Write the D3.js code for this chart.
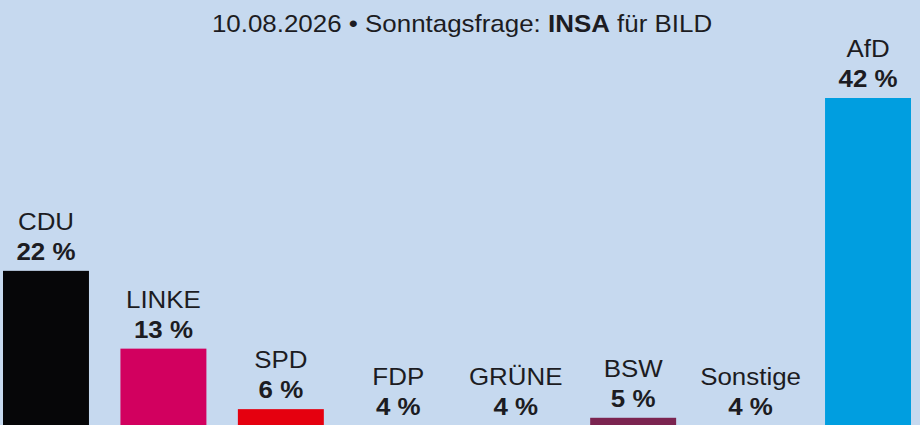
<!DOCTYPE html>
<html>
<head>
<meta charset="utf-8">
<script src="https://cdn.jsdelivr.net/npm/d3@7"></script>
<style>
  body { margin: 0; background: #c6d9ef; }
  text { font-family: "Liberation Sans", Arial, sans-serif; fill: #1c1c22; }
</style>
</head>
<body>
<script>
// poll data
var parties = ["CDU", "LINKE", "SPD", "FDP", "GRÜNE", "BSW", "Sonstige", "AfD"];
var shares = [22, 13, 6, 4, 4, 5, 4, 42];
var partyColors = ["#060608", "#d2005f", "#e5000f", "#ffe000", "#46962b", "#7b2450", "#9a9a9a", "#009ee0"];

var subtitleParts = [
  {text: "10.08.2026 • Sonntagsfrage: ", bold: false},
  {text: "INSA", bold: true},
  {text: " für BILD", bold: false}
];

var width = 920, height = 425;
var stretch = 1.08; // the source picture is a bit wider than normal type

var svg = d3.select("body").append("svg")
  .attr("width", width)
  .attr("height", height);

svg.append("rect")
  .attr("width", width).attr("height", height)
  .attr("fill", "#c6d9ef");

var x = d3.scaleBand()
  .domain(parties)
  .range([3, 911])
  .paddingInner(0.268)
  .paddingOuter(0);

// baseline sits below the cropped bottom edge
var y = d3.scaleLinear()
  .domain([0, 42])
  .range([461, 98]);

var data = parties.map(function(p, i) {
  return {party: p, value: shares[i], color: partyColors[i]};
});

svg.selectAll("rect.bar")
  .data(data).enter()
  .append("rect")
  .attr("class", "bar")
  .attr("x", function(d) { return x(d.party); })
  .attr("y", function(d) { return y(d.value); })
  .attr("width", x.bandwidth())
  .attr("height", function(d) { return y(0) - y(d.value); })
  .attr("fill", function(d) { return d.color; });

var labels = svg.selectAll("g.label")
  .data(data).enter()
  .append("g")
  .attr("class", "label")
  .attr("transform", function(d) {
    return "translate(" + (x(d.party) + x.bandwidth() / 2) + "," + y(d.value) + ") scale(" + stretch + ",1)";
  });

labels.append("text")
  .attr("y", -41)
  .attr("text-anchor", "middle")
  .style("font-size", "24px")
  .text(function(d) { return d.party; });

labels.append("text")
  .attr("y", -11)
  .attr("text-anchor", "middle")
  .style("font-size", "24px")
  .style("font-weight", "bold")
  .text(function(d) { return d.value + " %"; });

// subtitle
var sub = svg.append("text")
  .attr("transform", "translate(462,31.5) scale(" + stretch + ",1)")
  .attr("text-anchor", "middle")
  .style("font-size", "24px");

sub.selectAll("tspan")
  .data(subtitleParts).enter()
  .append("tspan")
  .style("font-weight", function(d) { return d.bold ? "bold" : "normal"; })
  .style("white-space", "pre")
  .text(function(d) { return d.text; });
</script>
</body>
</html>
